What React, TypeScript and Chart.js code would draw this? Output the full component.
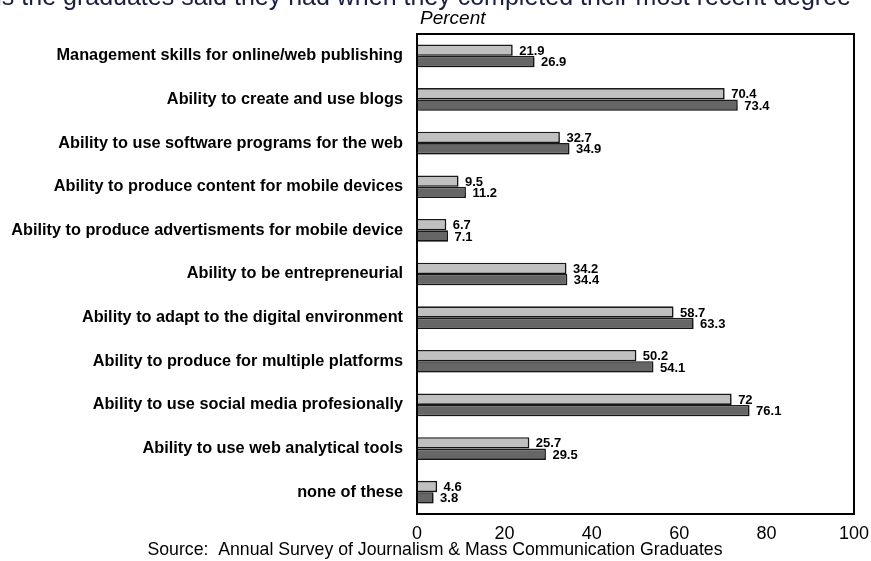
import React, { useEffect, useRef } from "react";
import { Chart, registerables } from "chart.js";

Chart.register(...registerables);

const categories = [
  "Management skills for online/web publishing",
  "Ability to create and use blogs",
  "Ability to use software programs for the web",
  "Ability to produce content for mobile devices",
  "Ability to produce advertisments for mobile device",
  "Ability to be entrepreneurial",
  "Ability to adapt to the digital environment",
  "Ability to produce for multiple platforms",
  "Ability to use social media profesionally",
  "Ability to use web analytical tools",
  "none of these",
];

const seriesLight = [21.9, 70.4, 32.7, 9.5, 6.7, 34.2, 58.7, 50.2, 72, 25.7, 4.6];
const seriesDark = [26.9, 73.4, 34.9, 11.2, 7.1, 34.4, 63.3, 54.1, 76.1, 29.5, 3.8];

const xMin = 0;
const xMax = 100;
const xStep = 20;

const titlePrefix = "Skills the ";
const titleRest = "graduates said they had when they completed their most recent degree";
const axisTitle = "Percent";
const sourceText = "Source:  Annual Survey of Journalism & Mass Communication Graduates";

const FAMILY = "'Liberation Sans', Arial, Helvetica, sans-serif";

const decorPlugin = {
  id: "decor",
  beforeDatasetsDraw(chart: any) {
    const ctx = chart.ctx;
    ctx.save();
    ctx.shadowColor = "rgba(0,0,0,0.18)";
    ctx.shadowOffsetX = 2;
    ctx.shadowOffsetY = 2;
    ctx.shadowBlur = 1;
  },
  afterDatasetsDraw(chart: any) {
    const ctx = chart.ctx;
    ctx.restore();
    ctx.save();
    ctx.fillStyle = "#000";
    ctx.font = `bold 13px ${FAMILY}`;
    ctx.textAlign = "left";
    ctx.textBaseline = "middle";
    chart.data.datasets.forEach((ds: any, i: number) => {
      const meta = chart.getDatasetMeta(i);
      meta.data.forEach((el: any, j: number) => {
        ctx.fillText(String(ds.data[j]), el.x + 6.5, el.y + 1);
      });
    });
    ctx.restore();
  },
  afterDraw(chart: any) {
    const ctx = chart.ctx;
    const a = chart.chartArea;
    ctx.save();
    ctx.strokeStyle = "#000";
    ctx.lineWidth = 2;
    ctx.strokeRect(a.left, a.top, a.right - a.left, a.bottom - a.top);

    ctx.fillStyle = "#000";
    ctx.font = `italic 19px ${FAMILY}`;
    ctx.textAlign = "left";
    ctx.textBaseline = "alphabetic";
    ctx.fillText(axisTitle, a.left + 3, 24);

    ctx.font = `17.7px ${FAMILY}`;
    ctx.textAlign = "center";
    ctx.fillText(sourceText, 435, 555);

    ctx.fillStyle = "#1c2040";
    ctx.font = `25px ${FAMILY}`;
    ctx.textAlign = "left";
    const pw = ctx.measureText(titlePrefix).width;
    ctx.fillText(titlePrefix + titleRest, 63 - pw, 5);
    ctx.restore();
  },
};

export default function App() {
  const ref = useRef<HTMLCanvasElement>(null);

  useEffect(() => {
    document.body.style.margin = "0";
    const canvas = ref.current!;
    const chart = new Chart(canvas, {
      type: "bar",
      data: {
        labels: categories,
        datasets: [
          {
            label: "Series 1",
            data: seriesLight,
            backgroundColor: "#c0c0c0",
            borderColor: "#1a1a1a",
            borderWidth: 1.6,
            categoryPercentage: 0.52,
            barPercentage: 1,
          },
          {
            label: "Series 2",
            data: seriesDark,
            backgroundColor: "#666666",
            borderColor: "#1a1a1a",
            borderWidth: 1.6,
            categoryPercentage: 0.52,
            barPercentage: 1,
          },
        ],
      },
      options: {
        indexAxis: "y",
        responsive: false,
        animation: false,
        layout: { padding: { top: 34, right: 17, left: 0, bottom: 0 } },
        plugins: {
          legend: { display: false },
          tooltip: { enabled: false },
          title: { display: false },
        },
        scales: {
          x: {
            min: xMin,
            max: xMax,
            ticks: {
              stepSize: xStep,
              font: { family: FAMILY, size: 18, lineHeight: 2.28 },
              color: "#000",
              padding: 0,
            },
            grid: { display: false, drawTicks: false },
            border: { display: false },
            afterFit: (s: any) => {
              s.height = 47;
            },
          },
          y: {
            ticks: {
              font: { family: FAMILY, size: 16.3, weight: "bold" },
              color: "#000",
              padding: 14,
              autoSkip: false,
            },
            grid: { display: false, drawTicks: false },
            border: { display: false },
            afterFit: (s: any) => {
              s.width = 417;
            },
          },
        },
      } as any,
      plugins: [decorPlugin],
    });
    return () => chart.destroy();
  }, []);

  return (
    <div style={{ position: "absolute", left: 0, top: 0, background: "#fff" }}>
      <canvas ref={ref} width={871} height={561} style={{ display: "block" }} />
    </div>
  );
}
